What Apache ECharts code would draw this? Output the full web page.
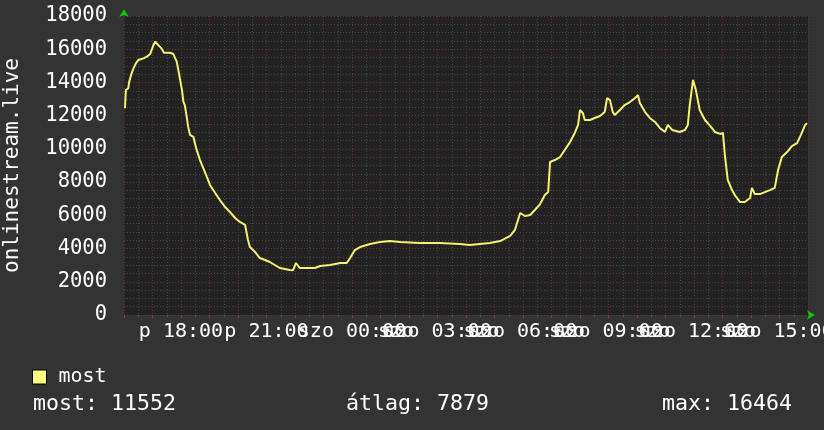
<!DOCTYPE html>
<html>
<head>
<meta charset="utf-8">
<script src="https://cdn.jsdelivr.net/npm/echarts@6/dist/echarts.min.js"></script>
<style>
  html, body { margin: 0; padding: 0; background: #333333; }
  #main { width: 824px; height: 430px; }
</style>
</head>
<body>
<div id="main"></div>
<script>
// viewer count, sampled from the graph (Fri 16:00 -> Sat 16:00)
var times = [
  "16:02", "16:04", "16:09", "16:11", "16:16", "16:20", "16:25", "16:30", "16:41", "16:48",
  "16:55", "17:02", "17:06", "17:12", "17:19", "17:24", "17:37", "17:44", "17:51", "17:55",
  "17:59", "18:02", "18:05", "18:08", "18:12", "18:15", "18:19", "18:26", "18:32", "18:40",
  "18:51", "19:01", "19:12", "19:22", "19:33", "19:43", "19:54", "20:04", "20:15", "20:21",
  "20:25", "20:36", "20:46", "20:57", "21:07", "21:28", "21:49", "21:56", "22:02", "22:10",
  "22:21", "22:42", "22:53", "23:14", "23:35", "23:49", "23:56", "00:06", "00:17", "00:38",
  "00:59", "01:20", "01:41", "02:23", "03:05", "03:47", "04:08", "04:29", "04:50", "05:12",
  "05:33", "05:43", "05:54", "06:04", "06:15", "06:25", "06:36", "06:46", "06:53", "06:57",
  "07:07", "07:18", "07:28", "07:39", "07:49", "07:56", "08:00", "08:06", "08:10", "08:21",
  "08:31", "08:42", "08:52", "08:57", "09:03", "09:09", "09:13", "09:24", "09:34", "09:45",
  "09:56", "10:02", "10:06", "10:17", "10:27", "10:38", "10:48", "10:59", "11:05", "11:14",
  "11:30", "11:41", "11:47", "11:51", "11:58", "12:04", "12:12", "12:23", "12:34", "12:44",
  "12:55", "13:01", "13:05", "13:11", "13:20", "13:26", "13:37", "13:47", "13:58", "14:02",
  "14:08", "14:19", "14:29", "14:40", "14:50", "14:57", "15:05", "15:16", "15:26", "15:37",
  "15:45", "15:54", "15:58"
];
var most = [
  12450, 13545, 13650, 14050, 14550, 14850, 15150, 15350, 15450, 15550,
  15710, 16250, 16464, 16250, 16050, 15790, 15790, 15710, 15250, 14650,
  14550, 13550, 12840, 12640, 11940, 11340, 10840, 10730, 10030, 9330,
  8550, 7830, 7340, 6920, 6500, 6200, 5840, 5600, 5420, 4520,
  4090, 3790, 3430, 3310, 3190, 2830, 2710, 2700, 3130, 2830,
  2830, 2830, 2950, 3010, 3130, 3130, 3430, 3910, 4090, 4270,
  4390, 4450, 4390, 4330, 4330, 4270, 4210, 4270, 4330, 4450,
  4760, 5120, 6140, 5960, 6020, 6320, 6680, 7220, 7400, 9210,
  9330, 9510, 9930, 10410, 10960, 11440, 12340, 12160, 11740, 11740,
  11860, 11980, 12220, 13060, 12940, 12220, 12040, 12340, 12640, 12820,
  13060, 13240, 12760, 12220, 11860, 11620, 11260, 11020, 11440, 11140,
  11020, 11140, 11440, 12640, 14150, 13540, 12340, 11740, 11380, 11020,
  10900, 10960, 9630, 8130, 7520, 7220, 6800, 6800, 7040, 7650,
  7280, 7280, 7400, 7520, 7650, 8730, 9510, 9810, 10170, 10350,
  10840, 11440, 11552
];
var yTicks = [0, 2000, 4000, 6000, 8000, 10000, 12000, 14000, 16000, 18000];
var dayNames = ["p", "szo"];
var stats = { most: 11552, atlag: 7879, max: 16464 };

var font = "'DejaVu Sans Mono', monospace";

// clock strings -> hours since Friday 00:00
var points = [];
var prev = 0, dayOff = 0;
times.forEach(function (t, i) {
  var p = t.split(":");
  var h = +p[0] + p[1] / 60 + dayOff;
  if (h < prev) { dayOff += 24; h += 24; }
  prev = h;
  points.push([h, most[i]]);
});

function pad(n) { return (n < 10 ? "0" : "") + n; }

var majorGrid = { color: "#6e3030", type: [1, 2], width: 1 };
var minorGrid = { color: "#474747", type: [1, 2], width: 1 };
var arrowLine = { show: true, symbol: ["none", "arrow"], symbolSize: [7, 8], symbolOffset: [0, 7], lineStyle: { color: "#00cc00", width: 0 } };

var myChart = echarts.init(document.getElementById("main"));
myChart.setOption({
  backgroundColor: "#333333",
  animation: false,
  grid: {
    left: 124, top: 16, width: 684, height: 299,
    containLabel: false, outerBoundsMode: "none",
    show: true, backgroundColor: "#222222", borderWidth: 0
  },
  title: [
    { text: "most: " + stats.most, left: 28, top: 388 },
    { text: "átlag: " + stats.atlag, left: 341, top: 388 },
    { text: "max: " + stats.max, left: 657, top: 388 }
  ].map(function (t) {
    t.textStyle = { color: "#ffffff", fontFamily: font, fontSize: 21.6, fontWeight: "normal" };
    return t;
  }),
  legend: {
    left: 27, top: 362,
    icon: "rect", itemWidth: 14, itemHeight: 14,
    itemStyle: { borderColor: "#000000", borderWidth: 1 },
    textStyle: { color: "#ffffff", fontFamily: font, fontSize: 20, padding: [0, 0, 0, 7] },
    data: ["most"]
  },
  xAxis: [
    {
      type: "value", min: 16, max: 40, interval: 1,
      axisLine: arrowLine,
      axisTick: { show: true, length: 3, lineStyle: { color: "#8a3a3a" } },
      minorTick: { show: true, splitNumber: 2, length: 2, lineStyle: { color: "#555555" } },
      splitLine: { show: true, lineStyle: majorGrid },
      minorSplitLine: { show: true, lineStyle: minorGrid },
      axisLabel: {
        margin: 7, color: "#ffffff", fontFamily: font, fontSize: 20,
        showMinLabel: false,
        formatter: function (v) {
          if (v % 3 !== 0) return "";
          return dayNames[v < 24 ? 0 : 1] + " " + pad(v % 24) + ":00";
        }
      }
    },
    {
      // the day name drawn a second time over the clock, as in the original
      type: "value", min: 16, max: 40, interval: 1, position: "bottom",
      axisLine: { show: false }, axisTick: { show: false }, splitLine: { show: false },
      axisLabel: {
        margin: 7, color: "#ffffff", fontFamily: font, fontSize: 20, align: "left",
        padding: [0, 0, 0, 26],
        formatter: function (v) {
          return (v % 3 === 0 && v >= 24 && v < 39) ? dayNames[1] : "";
        }
      }
    }
  ],
  yAxis: {
    type: "value", min: 0, max: 18000, interval: 2000,
    name: "onlinestream.live", nameLocation: "middle", nameRotate: 90, nameGap: 101,
    nameTextStyle: { color: "#ffffff", fontFamily: font, fontSize: 21 },
    axisLine: arrowLine,
    axisTick: { show: false },
    splitLine: { show: true, lineStyle: majorGrid },
    minorTick: { show: false, splitNumber: 4 },
    minorSplitLine: { show: true, lineStyle: minorGrid },
    axisLabel: {
      margin: 17, color: "#ffffff", fontFamily: font, fontSize: 20.5,
      formatter: function (v) { return yTicks.indexOf(v) >= 0 ? String(v) : ""; }
    }
  },
  series: [{
    name: "most",
    type: "line",
    data: points,
    showSymbol: false,
    color: "#ffff80",
    lineStyle: { width: 2, color: "#f4f270" }
  }]
});
</script>
</body>
</html>
